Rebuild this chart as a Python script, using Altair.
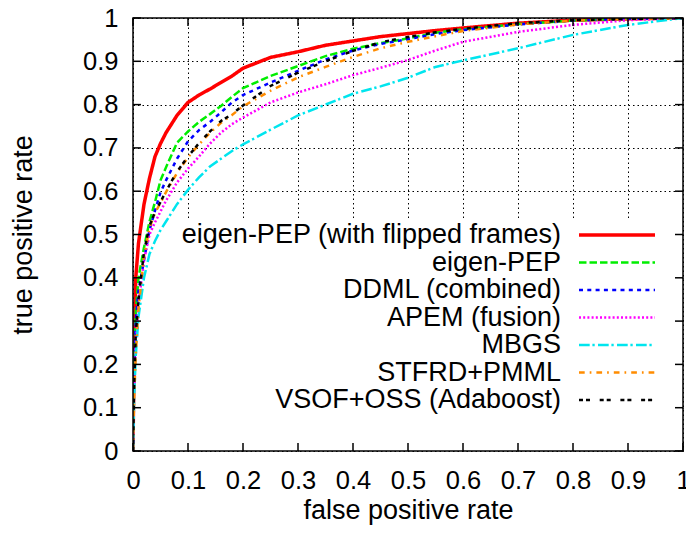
import altair as alt
import pandas as pd

# ---------------- data ----------------
FPR = [0, 0.002, 0.005, 0.01, 0.02, 0.03, 0.04, 0.05, 0.06, 0.08, 0.1, 0.12, 0.14,
       0.16, 0.18, 0.2, 0.25, 0.3, 0.35, 0.4, 0.45, 0.5, 0.55, 0.6, 0.7, 0.8, 0.9, 1.0]

EIGEN_FLIP = [0, 0.25, 0.40, 0.48, 0.57, 0.63, 0.68, 0.71, 0.735, 0.775, 0.805, 0.822, 0.836,
              0.851, 0.866, 0.884, 0.909, 0.922, 0.937, 0.947, 0.957, 0.964, 0.971, 0.977, 0.988, 0.995, 0.998, 1.0]
EIGEN = [0, 0.2, 0.32, 0.4, 0.47, 0.53, 0.575, 0.625, 0.655, 0.712, 0.738, 0.76, 0.778,
         0.797, 0.818, 0.838, 0.866, 0.889, 0.912, 0.929, 0.942, 0.953, 0.966, 0.974, 0.986, 0.994, 0.998, 1.0]
DDML = [0, 0.18, 0.30, 0.37, 0.44, 0.51, 0.555, 0.597, 0.625, 0.675, 0.715, 0.741, 0.76,
        0.782, 0.805, 0.822, 0.851, 0.878, 0.904, 0.925, 0.94, 0.951, 0.963, 0.972, 0.985, 0.994, 0.998, 1.0]
APEM = [0, 0.15, 0.25, 0.34, 0.44, 0.5, 0.528, 0.553, 0.578, 0.62, 0.652, 0.68, 0.71,
        0.735, 0.755, 0.77, 0.805, 0.828, 0.847, 0.868, 0.885, 0.903, 0.925, 0.945, 0.968, 0.984, 0.995, 1.0]
MBGS = [0, 0.12, 0.22, 0.31, 0.4, 0.455, 0.485, 0.51, 0.53, 0.57, 0.603, 0.632, 0.657,
        0.675, 0.693, 0.708, 0.742, 0.775, 0.8, 0.825, 0.842, 0.862, 0.887, 0.902, 0.93, 0.961, 0.984, 1.0]
STFRD = [0, 0.12, 0.22, 0.33, 0.45, 0.515, 0.55, 0.573, 0.598, 0.642, 0.678, 0.708, 0.735,
         0.758, 0.776, 0.796, 0.832, 0.863, 0.887, 0.91, 0.93, 0.945, 0.958, 0.97, 0.985, 0.994, 0.998, 1.0]
VSOF = [0, 0.15, 0.27, 0.35, 0.46, 0.52, 0.552, 0.575, 0.6, 0.645, 0.68, 0.711, 0.738,
        0.762, 0.778, 0.798, 0.843, 0.874, 0.9, 0.924, 0.944, 0.956, 0.967, 0.975, 0.988, 0.995, 0.998, 1.0]

NAMES = ["eigen-PEP (with flipped frames)", "eigen-PEP", "DDML (combined)",
         "APEM (fusion)", "MBGS", "STFRD+PMML", "VSOF+OSS (Adaboost)"]
TPRS = [EIGEN_FLIP, EIGEN, DDML, APEM, MBGS, STFRD, VSOF]
COLORS = ["#ff0000", "#00ee00", "#0000ff", "#ff00ff", "#00e5ee", "#ff8c00", "#000000"]
DASHES = [[1, 0], [7.5, 3], [4, 4.3], [2, 2.2], [10.7, 2.7, 2.3, 3.3], [5.7, 5, 1.7, 5], [4, 3, 4, 9.7]]
WIDTHS = [3.5, 2.5, 2.5, 2.5, 2.5, 2.5, 2.5]

TICKS = [0, 0.1, 0.2, 0.3, 0.4, 0.5, 0.6, 0.7, 0.8, 0.9, 1]

# ---------------- build ----------------
rows = []
for name, vals in zip(NAMES, TPRS):
    for f, t in zip(FPR, vals):
        rows.append({"series": name, "fpr": f, "tpr": t})
df = pd.DataFrame(rows)
tick_df = pd.DataFrame({"t": TICKS})
leg_df = pd.DataFrame({"series": NAMES})

W, H = 550, 433
FONT = "Liberation Sans"
LABEL_FS = 25.5
TITLE_FS = 27
LEG_FS = 27

xs = alt.Scale(domain=[0, 1], nice=False, zero=False)
ys = alt.Scale(domain=[0, 1], nice=False, zero=False)
leg_scale = alt.Scale(type="point", domain=NAMES, range=[217, 382], padding=0)

common_axis = dict(values=TICKS, format="~g", grid=True, gridColor="black",
                   gridDash=[1.5, 3], gridWidth=1, gridOpacity=1, domain=False,
                   ticks=False, tickSize=0, labelFontSize=LABEL_FS, labelFont=FONT,
                   labelColor="black", labelFlush=False, labelOverlap=False,
                   titleFontSize=TITLE_FS, titleFont=FONT, titleFontWeight="normal",
                   titleColor="black", titleBaseline="alphabetic")

axes_layer = alt.Chart(tick_df).mark_point(opacity=0).encode(
    x=alt.X("t:Q", scale=xs, axis=alt.Axis(title="false positive rate", labelPadding=17,
                                           titleY=67, titleX=W / 2, **common_axis)),
    y=alt.Y("t:Q", scale=ys, axis=alt.Axis(title="true positive rate", labelPadding=15,
                                           titleX=-102, titleY=H / 2, **common_axis)),
)

one = alt.Data(values=[{"k": 1}])
key_box = alt.Chart(one).mark_rect(color="white").encode(
    x=alt.value(1), x2=alt.value(W - 1), y=alt.value(203), y2=alt.value(H - 1)
)

lines = []
for name, c, d, w in zip(NAMES, COLORS, DASHES, WIDTHS):
    lines.append(
        alt.Chart(df).transform_filter(alt.datum.series == name)
        .mark_line(color=c, strokeDash=d, strokeWidth=w, clip=True)
        .encode(x=alt.X("fpr:Q", scale=xs, axis=None),
                y=alt.Y("tpr:Q", scale=ys, axis=None),
                order="fpr:Q")
    )

leg_text = alt.Chart(leg_df).mark_text(align="right", baseline="middle", font=FONT,
                                       fontSize=LEG_FS, color="black").encode(
    x=alt.value(428), y=alt.Y("series:N", scale=leg_scale, axis=None), text="series:N"
)
leg_rules = []
for name, c, d, w in zip(NAMES, COLORS, DASHES, WIDTHS):
    leg_rules.append(
        alt.Chart(leg_df).transform_filter(alt.datum.series == name)
        .mark_rule(color=c, strokeDash=d, strokeWidth=w)
        .encode(x=alt.value(446), x2=alt.value(522),
                y=alt.Y("series:N", scale=leg_scale, axis=None))
    )

tk = dict(color="black", strokeWidth=1.5)
tick_b = alt.Chart(tick_df).mark_rule(**tk).encode(
    x=alt.X("t:Q", scale=xs, axis=None), y=alt.value(H), y2=alt.value(H - 8))
tick_t = alt.Chart(tick_df).mark_rule(**tk).encode(
    x=alt.X("t:Q", scale=xs, axis=None), y=alt.value(0), y2=alt.value(8))
tick_l = alt.Chart(tick_df).mark_rule(**tk).encode(
    y=alt.Y("t:Q", scale=ys, axis=None), x=alt.value(0), x2=alt.value(8))
tick_r = alt.Chart(tick_df).mark_rule(**tk).encode(
    y=alt.Y("t:Q", scale=ys, axis=None), x=alt.value(W), x2=alt.value(W - 8))

border = alt.Chart(one).mark_rect(filled=False, color="black", strokeWidth=1.5).encode(
    x=alt.value(0), x2=alt.value(W), y=alt.value(0), y2=alt.value(H)
)

chart = alt.layer(
    axes_layer, key_box, *lines, leg_text, *leg_rules, tick_b, tick_t, tick_l, tick_r, border
).resolve_scale(x="independent", y="independent").properties(
    width=W, height=H,
    padding={"left": 125, "top": 10, "right": 3, "bottom": 74},
    autosize=alt.AutoSizeParams(type="none"),
    background="white",
).configure_view(stroke=None)

chart.save("out.html", embed_options={"renderer": "svg", "actions": False})
